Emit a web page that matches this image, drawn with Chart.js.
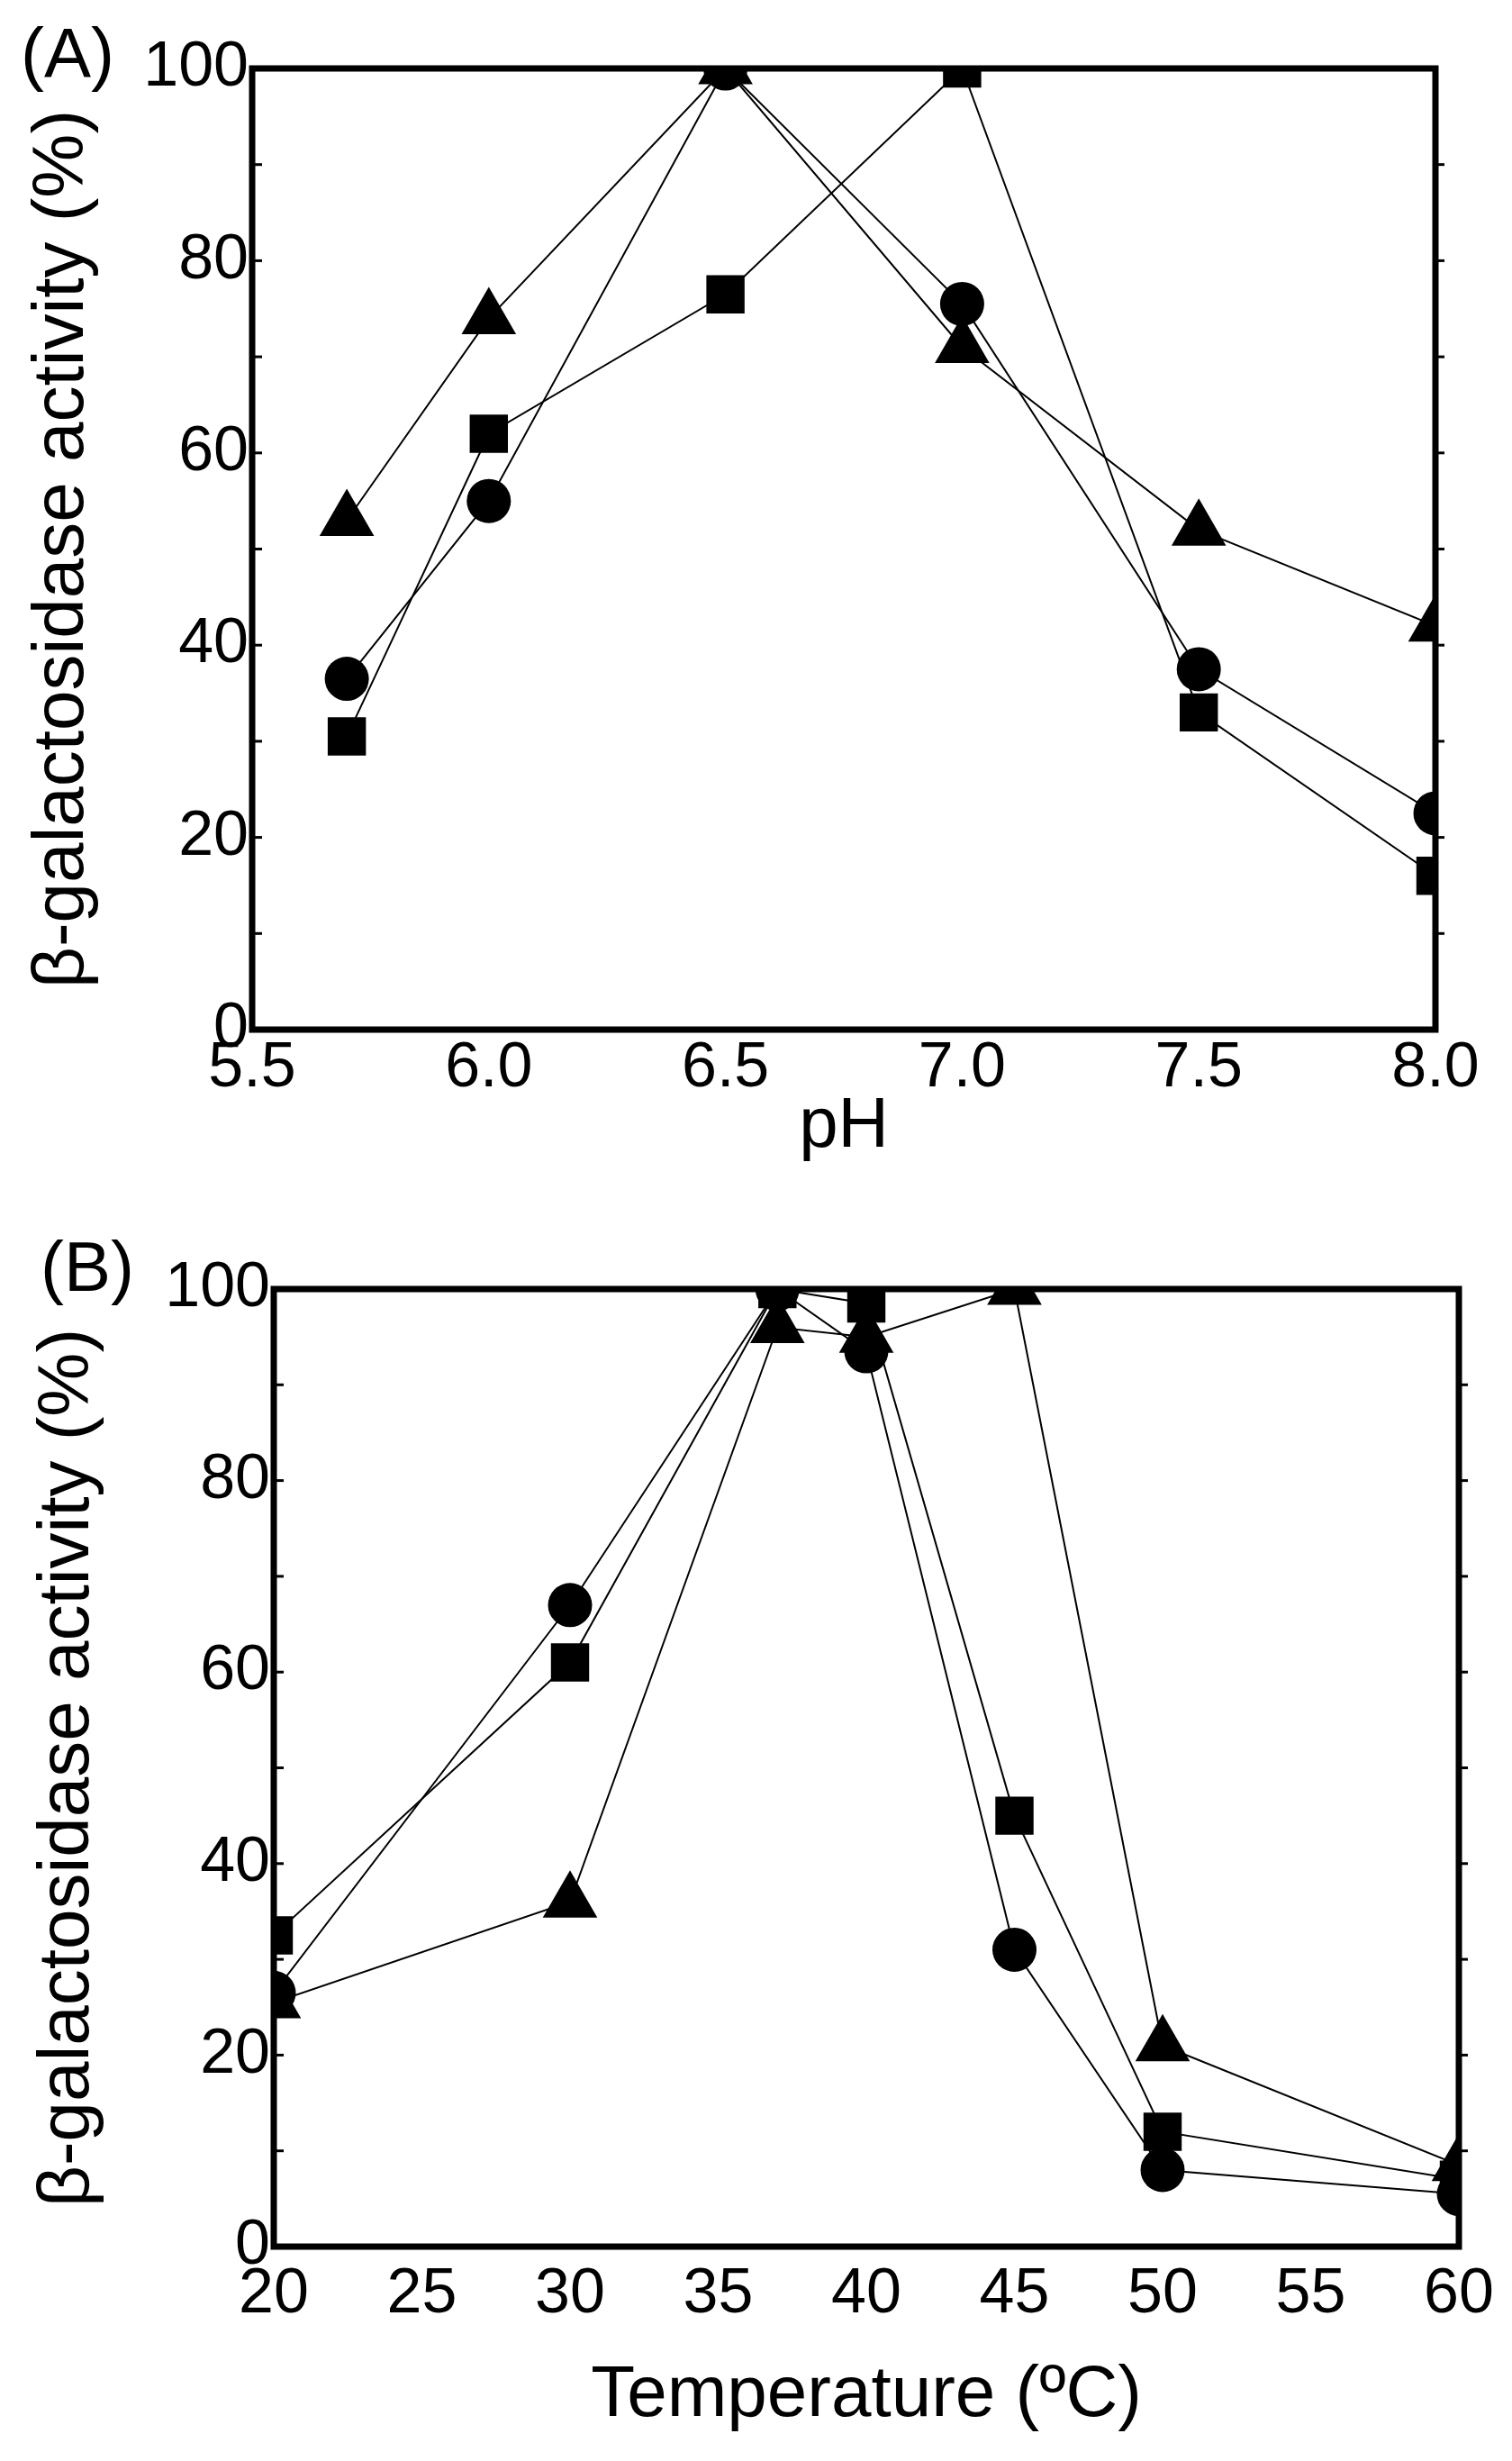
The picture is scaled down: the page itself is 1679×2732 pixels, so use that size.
<!DOCTYPE html>
<html>
<head>
<meta charset="utf-8">
<script src="https://cdn.jsdelivr.net/npm/chart.js@4.4.0/dist/chart.umd.min.js"></script>
<style>
  body { margin:0; background:#fff; }
  #hoja { position:relative; width:1679px; height:2732px; }
  canvas { position:absolute; left:0; }
  .letra { position:absolute; font-family:"Liberation Sans", Arial, sans-serif; font-size:78px; line-height:1; color:#000; }
</style>
</head>
<body>
<div id="hoja">
  <canvas id="graficaPH" width="1679" height="1340" style="top:0"></canvas>
  <canvas id="graficaTemp" width="1679" height="1392" style="top:1340px"></canvas>
  <div class="letra" style="left:23px;top:20px">(A)</div>
  <div class="letra" style="left:45px;top:1367px">(B)</div>
</div>
<script>

// datos
const ph = [5.7, 6.0, 6.5, 7.0, 7.5, 8.0];
const phCirculo = [36.5, 55, 100, 75.5, 37.5, 22.5];
const phCuadrado = [30.5, 62, 76.5, 100, 33, 16];
const phTriangulo = [53, 74, 100, 71, 52, 42];

const temp = [20, 30, 37, 40, 45, 50, 60];
const tempCirculo = [26.5, 67, 100, 93.5, 31, 8, 5.5];
const tempCuadrado = [32.5, 61, 100, 98.5, 45, 12, 7];
const tempTriangulo = [25.5, 36, 96, 95, 100, 21, 8.5];

const ticksY = [0, 20, 40, 60, 80, 100];

const fuente = '"Liberation Sans", Arial, sans-serif';

function puntos(xs, ys) {
  return xs.map(function (x, i) { return { x: x, y: ys[i] }; });
}

function serie(nombre, xs, ys, estilo, radio) {
  return {
    label: nombre,
    data: puntos(xs, ys),
    borderColor: "#000",
    borderWidth: 2,
    backgroundColor: "#000",
    pointStyle: estilo,
    pointRadius: radio,
    pointBorderWidth: 0,
    pointBackgroundColor: "#000",
    showLine: true,
    tension: 0,
    clip: 0
  };
}

// marco y marcas de los ejes
const marco = {
  id: "marco",
  afterDraw(chart) {
    const c = chart.ctx;
    const a = chart.chartArea;
    const y = chart.scales.y;
    c.save();
    c.strokeStyle = "#000";
    c.lineWidth = 3;
    for (let v = 10; v < 100; v += 10) {
      const py = y.getPixelForValue(v);
      c.beginPath();
      c.moveTo(a.left, py);
      c.lineTo(a.left + 11, py);
      c.stroke();
      c.beginPath();
      c.moveTo(a.right, py);
      c.lineTo(a.right + 10, py);
      c.stroke();
    }
    c.lineWidth = 7;
    c.strokeRect(a.left, a.top, a.right - a.left, a.bottom - a.top);
    c.restore();
  }
};

function hacerGrafica(id, series, xmin, xmax, paso, decimales, tituloX, caja) {
  const ctx = document.getElementById(id).getContext("2d");
  return new Chart(ctx, {
    type: "scatter",
    data: { datasets: series },
    options: {
      responsive: false,
      animation: false,
      layout: { padding: { top: caja.arriba, right: caja.derecha, left: 0, bottom: 0 } },
      plugins: { legend: { display: false }, tooltip: { enabled: false } },
      scales: {
        x: {
          type: "linear",
          min: xmin,
          max: xmax,
          grid: { display: false, drawTicks: false },
          border: { display: false },
          afterFit: function (s) { s.height = caja.altoX; },
          ticks: {
            stepSize: paso,
            padding: caja.padX,
            color: "#000",
            font: { family: fuente, size: 70 },
            callback: function (v) { return Number(v).toFixed(decimales); }
          },
          title: {
            display: true,
            text: tituloX,
            color: "#000",
            font: { family: fuente, size: caja.fuenteX },
            padding: { top: 0, bottom: caja.padTituloX }
          }
        },
        y: {
          min: 0,
          max: 100,
          grid: { display: false, drawTicks: false },
          border: { display: false },
          afterFit: function (s) { s.width = caja.anchoY; },
          afterBuildTicks: function (s) { s.ticks = ticksY.map(function (v) { return { value: v }; }); },
          ticks: {
            padding: 4,
            color: "#000",
            font: { family: fuente, size: 70 }
          },
          title: {
            display: true,
            text: "β-galactosidase activity (%)",
            color: "#000",
            font: { family: fuente, size: 80 },
            padding: { top: caja.padTituloY, bottom: 0 }
          }
        }
      }
    },
    plugins: [marco]
  });
}

hacerGrafica("graficaPH", [
  serie("circulo", ph, phCirculo, "circle", 24.5),
  serie("cuadrado", ph, phCuadrado, "rect", 30),
  serie("triangulo", ph, phTriangulo, "triangle", 35)
], 5.5, 8.0, 0.5, 1, "pH",
  { arriba: 76, derecha: 85, altoX: 197, anchoY: 280, padX: 2, fuenteX: 78, padTituloX: 42, padTituloY: 22 });

hacerGrafica("graficaTemp", [
  serie("circulo", temp, tempCirculo, "circle", 24.5),
  serie("cuadrado", temp, tempCuadrado, "rect", 30),
  serie("triangulo", temp, tempTriangulo, "triangle", 35)
], 20, 60, 5, 0, "Temperature (ºC)",
  { arriba: 91, derecha: 59, altoX: 238, anchoY: 304, padX: 12, fuenteX: 80, padTituloX: 24, padTituloY: 28 });

</script>
</body>
</html>
